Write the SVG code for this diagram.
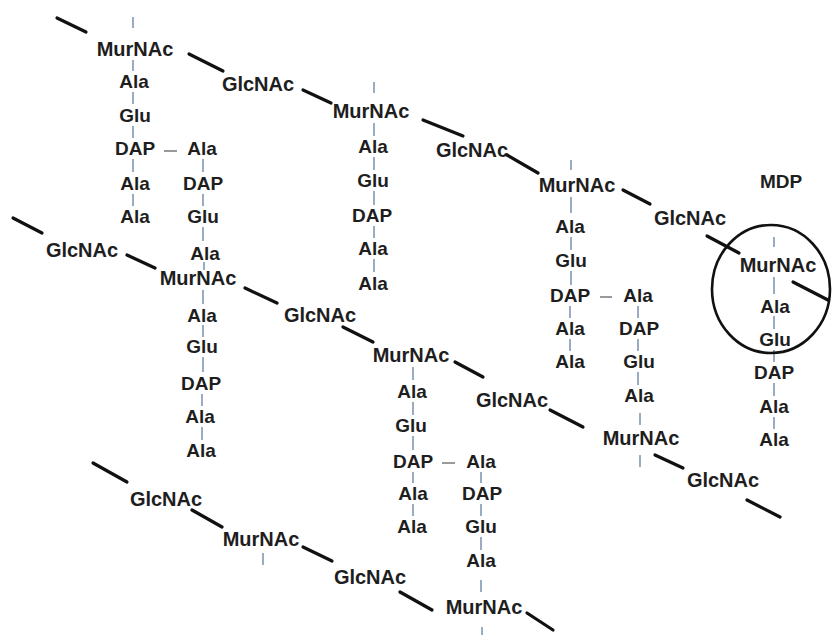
<svg xmlns="http://www.w3.org/2000/svg" width="832" height="635" viewBox="0 0 832 635">
<style>
text{font-family:"Liberation Sans",Arial,sans-serif;font-weight:bold;fill:#1e1e1e;text-anchor:middle}
.s{font-size:20px}
.p{font-size:19px}
.g line{stroke:#111;stroke-width:3.2;stroke-linecap:round}
.t line{stroke:#7890ad;stroke-width:1.5}
.d line{stroke:#808080;stroke-width:1.6}
</style>
<rect width="832" height="635" fill="#fff"/>
<g id="connectors">
<g class="g">
<line x1="57" y1="18" x2="86" y2="32"/>
<line x1="189" y1="54" x2="223" y2="71"/>
<line x1="303" y1="90" x2="331" y2="103"/>
<line x1="423" y1="120" x2="463" y2="136"/>
<line x1="507" y1="155" x2="538" y2="173"/>
<line x1="623" y1="190" x2="650" y2="204"/>
<line x1="707" y1="236" x2="739" y2="253"/>
<line x1="793" y1="282" x2="828" y2="300"/>
<line x1="13" y1="218" x2="42" y2="233"/>
<line x1="127" y1="255" x2="155" y2="268"/>
<line x1="245" y1="288" x2="277" y2="303"/>
<line x1="343" y1="327" x2="373" y2="342"/>
<line x1="455" y1="362" x2="483" y2="377"/>
<line x1="550" y1="410" x2="583" y2="427"/>
<line x1="655" y1="455" x2="683" y2="468"/>
<line x1="747" y1="500" x2="780" y2="517"/>
<line x1="93" y1="463" x2="127" y2="482"/>
<line x1="192" y1="510" x2="222" y2="527"/>
<line x1="303" y1="547" x2="332" y2="561"/>
<line x1="400" y1="592" x2="432" y2="610"/>
<line x1="527" y1="613" x2="553" y2="630"/>
</g>
<g class="t">
<line x1="133" y1="17" x2="133" y2="28"/>
<line x1="133" y1="60" x2="133" y2="71"/>
<line x1="133" y1="92" x2="133" y2="104"/>
<line x1="133" y1="126" x2="133" y2="138"/>
<line x1="133" y1="159" x2="133" y2="172"/>
<line x1="133" y1="194" x2="133" y2="206"/>
<line x1="203" y1="159" x2="203" y2="172"/>
<line x1="203" y1="194" x2="203" y2="206"/>
<line x1="203" y1="227" x2="203" y2="241"/>
<line x1="204" y1="262" x2="204" y2="270"/>
<line x1="203" y1="290" x2="203" y2="304"/>
<line x1="203" y1="325" x2="203" y2="337"/>
<line x1="203" y1="357" x2="203" y2="372"/>
<line x1="202" y1="394" x2="202" y2="406"/>
<line x1="202" y1="427" x2="202" y2="440"/>
<line x1="374" y1="82" x2="374" y2="93"/>
<line x1="374" y1="123" x2="374" y2="136"/>
<line x1="374" y1="157" x2="374" y2="170"/>
<line x1="374" y1="191" x2="374" y2="205"/>
<line x1="374" y1="226" x2="374" y2="238"/>
<line x1="374" y1="259" x2="374" y2="272"/>
<line x1="571" y1="160" x2="571" y2="170"/>
<line x1="571" y1="197" x2="571" y2="213"/>
<line x1="571" y1="237" x2="571" y2="250"/>
<line x1="571" y1="271" x2="571" y2="285"/>
<line x1="570" y1="306" x2="570" y2="318"/>
<line x1="570" y1="339" x2="570" y2="351"/>
<line x1="638" y1="306" x2="638" y2="318"/>
<line x1="638" y1="339" x2="638" y2="351"/>
<line x1="638" y1="372" x2="638" y2="385"/>
<line x1="640" y1="413" x2="640" y2="425"/>
<line x1="640" y1="455" x2="640" y2="467"/>
<line x1="413" y1="367" x2="413" y2="380"/>
<line x1="413" y1="402" x2="413" y2="415"/>
<line x1="413" y1="436" x2="413" y2="450"/>
<line x1="413" y1="472" x2="413" y2="483"/>
<line x1="413" y1="504" x2="413" y2="516"/>
<line x1="481" y1="472" x2="481" y2="483"/>
<line x1="481" y1="504" x2="481" y2="516"/>
<line x1="481" y1="537" x2="481" y2="550"/>
<line x1="481" y1="580" x2="481" y2="592"/>
<line x1="482" y1="627" x2="482" y2="635"/>
<line x1="774" y1="237" x2="774" y2="247"/>
<line x1="774" y1="277" x2="774" y2="294"/>
<line x1="774" y1="316" x2="774" y2="329"/>
<line x1="774" y1="350" x2="774" y2="362"/>
<line x1="774" y1="383" x2="774" y2="396"/>
<line x1="774" y1="417" x2="774" y2="429"/>
<line x1="263" y1="553" x2="263" y2="565"/>
</g>
<g class="d">
<line x1="164" y1="151" x2="177" y2="151"/>
<line x1="600" y1="297" x2="612" y2="297"/>
<line x1="442" y1="463" x2="455" y2="463"/>
</g>
</g>
<g id="mdp-circle"><ellipse cx="771" cy="289" rx="59" ry="64" fill="none" stroke="#111" stroke-width="2.6"/></g>
<g id="mdp-label"><text class="p" x="781" y="188">MDP</text></g>
<g id="strandA">
<g id="a1"><text class="s" x="135" y="56">MurNAc</text></g>
<g id="a2"><text class="s" x="258" y="91">GlcNAc</text></g>
<g id="a3"><text class="s" x="371" y="118">MurNAc</text></g>
<g id="a4"><text class="s" x="472" y="157">GlcNAc</text></g>
<g id="a5"><text class="s" x="577" y="192">MurNAc</text></g>
<g id="a6"><text class="s" x="690" y="225">GlcNAc</text></g>
<g id="a7"><text class="s" x="778" y="272">MurNAc</text></g>
</g>
<g id="strandB">
<g id="b1"><text class="s" x="82" y="257">GlcNAc</text></g>
<g id="b2"><text class="s" x="198" y="285">MurNAc</text></g>
<g id="b3"><text class="s" x="320" y="322">GlcNAc</text></g>
<g id="b4"><text class="s" x="411" y="362">MurNAc</text></g>
<g id="b5"><text class="s" x="512" y="407">GlcNAc</text></g>
<g id="b6"><text class="s" x="641" y="445">MurNAc</text></g>
<g id="b7"><text class="s" x="723" y="487">GlcNAc</text></g>
</g>
<g id="strandC">
<g id="c1"><text class="s" x="166" y="506">GlcNAc</text></g>
<g id="c2"><text class="s" x="261" y="546">MurNAc</text></g>
<g id="c3"><text class="s" x="370" y="584">GlcNAc</text></g>
<g id="c4"><text class="s" x="484" y="614">MurNAc</text></g>
</g>
<g id="pep1">
<g id="p1a"><text class="p" x="134" y="88">Ala</text></g>
<g id="p1b"><text class="p" x="135" y="122">Glu</text></g>
<g id="p1c"><text class="p" x="135" y="155">DAP</text></g>
<g id="p1d"><text class="p" x="135" y="190">Ala</text></g>
<g id="p1e"><text class="p" x="135" y="223">Ala</text></g>
</g>
<g id="pep2">
<g id="p2a"><text class="p" x="202" y="155">Ala</text></g>
<g id="p2b"><text class="p" x="203" y="190">DAP</text></g>
<g id="p2c"><text class="p" x="203" y="223">Glu</text></g>
<g id="p2d"><text class="p" x="205" y="260">Ala</text></g>
<g id="p2e"><text class="p" x="202" y="322">Ala</text></g>
<g id="p2f"><text class="p" x="202" y="353">Glu</text></g>
<g id="p2g"><text class="p" x="201" y="390">DAP</text></g>
<g id="p2h"><text class="p" x="200" y="423">Ala</text></g>
<g id="p2i"><text class="p" x="201" y="457">Ala</text></g>
</g>
<g id="pep3">
<g id="p3a"><text class="p" x="373" y="153">Ala</text></g>
<g id="p3b"><text class="p" x="373" y="187">Glu</text></g>
<g id="p3c"><text class="p" x="372" y="222">DAP</text></g>
<g id="p3d"><text class="p" x="373" y="255">Ala</text></g>
<g id="p3e"><text class="p" x="373" y="290">Ala</text></g>
</g>
<g id="pep4">
<g id="p4a"><text class="p" x="570" y="233">Ala</text></g>
<g id="p4b"><text class="p" x="571" y="267">Glu</text></g>
<g id="p4c"><text class="p" x="570" y="302">DAP</text></g>
<g id="p4d"><text class="p" x="570" y="335">Ala</text></g>
<g id="p4e"><text class="p" x="570" y="368">Ala</text></g>
</g>
<g id="pep5">
<g id="p5a"><text class="p" x="638" y="302">Ala</text></g>
<g id="p5b"><text class="p" x="639" y="335">DAP</text></g>
<g id="p5c"><text class="p" x="639" y="368">Glu</text></g>
<g id="p5d"><text class="p" x="639" y="402">Ala</text></g>
</g>
<g id="pep6">
<g id="p6a"><text class="p" x="412" y="398">Ala</text></g>
<g id="p6b"><text class="p" x="411" y="432">Glu</text></g>
<g id="p6c"><text class="p" x="413" y="468">DAP</text></g>
<g id="p6d"><text class="p" x="413" y="500">Ala</text></g>
<g id="p6e"><text class="p" x="412" y="533">Ala</text></g>
</g>
<g id="pep7">
<g id="p7a"><text class="p" x="481" y="468">Ala</text></g>
<g id="p7b"><text class="p" x="482" y="500">DAP</text></g>
<g id="p7c"><text class="p" x="481" y="533">Glu</text></g>
<g id="p7d"><text class="p" x="481" y="567">Ala</text></g>
</g>
<g id="pep8">
<g id="p8a"><text class="p" x="775" y="313">Ala</text></g>
<g id="p8b"><text class="p" x="775" y="346">Glu</text></g>
<g id="p8c"><text class="p" x="774" y="379">DAP</text></g>
<g id="p8d"><text class="p" x="774" y="413">Ala</text></g>
<g id="p8e"><text class="p" x="774" y="446">Ala</text></g>
</g>
</svg>
